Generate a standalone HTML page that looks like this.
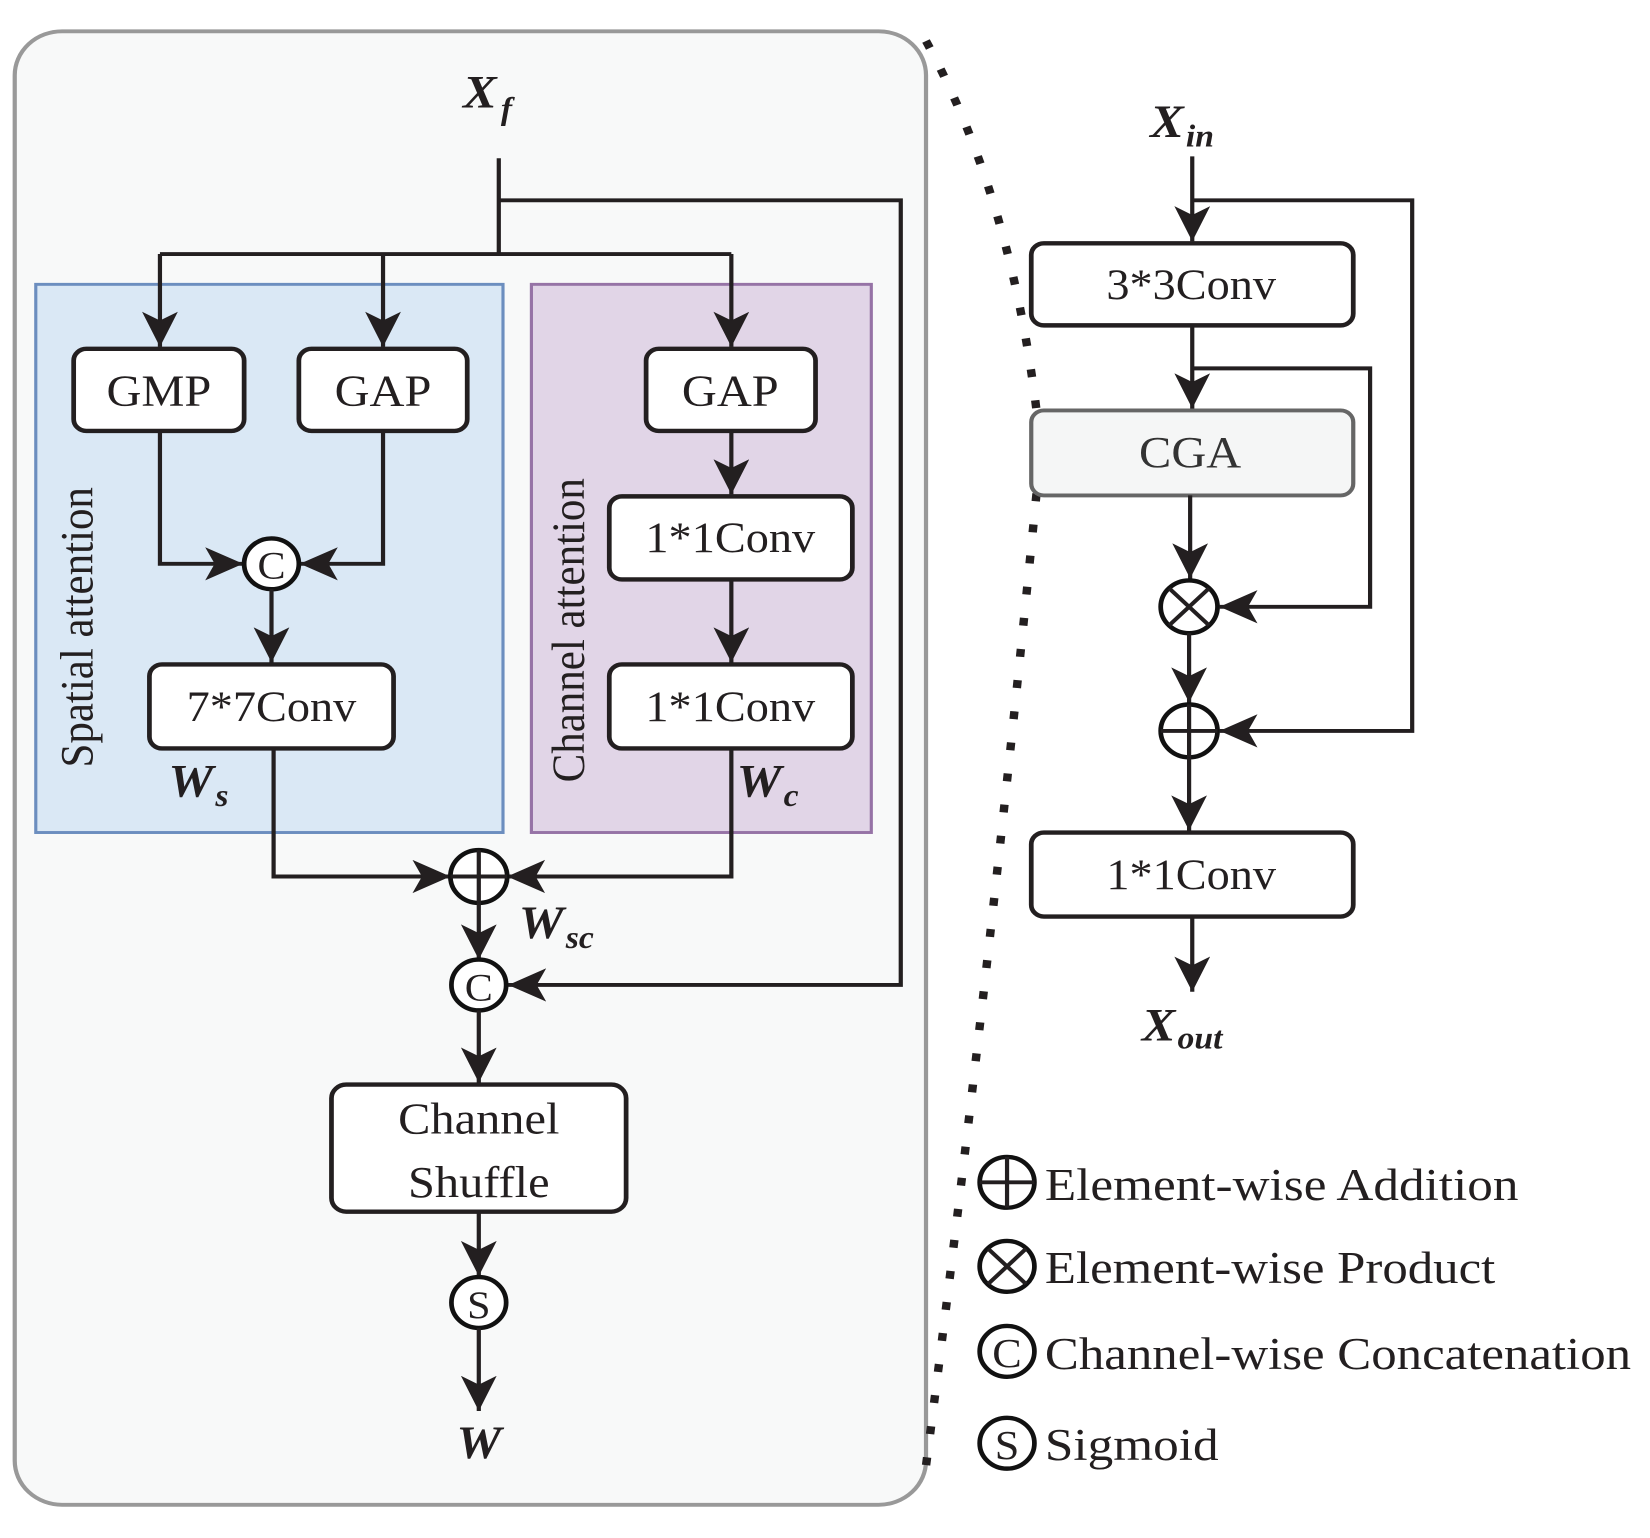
<!DOCTYPE html>
<html><head><meta charset="utf-8"><style>
html,body{margin:0;padding:0;background:#fff;}
svg{display:block;}
text{font-family:"Liberation Serif","Times New Roman",serif;fill:#231f20;}
.b{fill:#fff;stroke:#231f20;stroke-width:4.5;}
.l{fill:none;stroke:#231f20;stroke-width:4;}
.c{fill:#fff;stroke:#111;stroke-width:4.5;}
.bi{font-style:italic;font-weight:bold;}
</style></head><body>
<svg width="1650" height="1538" viewBox="0 0 1568 1574" preserveAspectRatio="none" xmlns="http://www.w3.org/2000/svg">
<defs>
<marker id="a" markerUnits="userSpaceOnUse" markerWidth="40" markerHeight="40" refX="36" refY="17" orient="auto">
<path d="M0,0 L36,17 L0,34 L9,17 z" fill="#231f20"/>
</marker>
</defs>
<rect x="14" y="32" width="866" height="1508" rx="45" fill="#f8f9f9" stroke="#999" stroke-width="4"/>
<rect x="34" y="291" width="444" height="561" fill="#dae8f5" stroke="#6c8ebf" stroke-width="3"/>
<rect x="505" y="291" width="323" height="561" fill="#e1d5e7" stroke="#9673a6" stroke-width="3"/>

<path d="M880,42 Q960,200 985,420 M985,505 Q940,1000 880,1500" fill="none" stroke="#231f20" stroke-width="8" stroke-dasharray="8,24"/>

<text x="440" y="110" font-size="48" class="bi">X<tspan font-size="32" dy="12" dx="4">f</tspan></text>
<path class="l" d="M474,162 V260"/>
<path class="l" d="M474,205 H856 V1008 H483" marker-end="url(#a)"/>
<path class="l" d="M152,260 H695"/>
<path class="l" d="M152,260 V355" marker-end="url(#a)"/>
<path class="l" d="M364,260 V355" marker-end="url(#a)"/>
<path class="l" d="M695,260 V355" marker-end="url(#a)"/>

<rect class="b" x="70" y="357" width="162" height="84" rx="12"/>
<text x="151" y="415" font-size="46" text-anchor="middle">GMP</text>
<rect class="b" x="284" y="357" width="160" height="84" rx="12"/>
<text x="364" y="415" font-size="46" text-anchor="middle">GAP</text>
<rect class="b" x="614" y="357" width="161" height="84" rx="12"/>
<text x="694" y="415" font-size="46" text-anchor="middle">GAP</text>

<path class="l" d="M152,441 V577 H231" marker-end="url(#a)"/>
<path class="l" d="M364,441 V577 H285" marker-end="url(#a)"/>
<circle class="c" cx="258" cy="577" r="26"/>
<text x="258" y="592" font-size="40" text-anchor="middle">C</text>
<path class="l" d="M258,603 V678" marker-end="url(#a)"/>
<rect class="b" x="142" y="680" width="232" height="86" rx="12"/>
<text x="258" y="738" font-size="44" text-anchor="middle">7*7Conv</text>
<text transform="translate(88,642) rotate(-90)" font-size="44" text-anchor="middle">Spatial attention</text>
<text x="160" y="815" font-size="48" class="bi">W<tspan font-size="32" dy="10" dx="2">s</tspan></text>

<path class="l" d="M695,441 V506" marker-end="url(#a)"/>
<rect class="b" x="579" y="508" width="231" height="85" rx="12"/>
<text x="694" y="565" font-size="44" text-anchor="middle">1*1Conv</text>
<path class="l" d="M695,593 V678" marker-end="url(#a)"/>
<rect class="b" x="579" y="680" width="231" height="86" rx="12"/>
<text x="694" y="738" font-size="44" text-anchor="middle">1*1Conv</text>
<text transform="translate(555,645) rotate(-90)" font-size="44" text-anchor="middle">Channel attention</text>
<text x="700" y="815" font-size="48" class="bi">W<tspan font-size="32" dy="10" dx="2">c</tspan></text>

<path class="l" d="M260,766 V897 H428" marker-end="url(#a)"/>
<path class="l" d="M695,766 V897 H482" marker-end="url(#a)"/>
<circle class="c" cx="455" cy="897" r="27"/>
<path class="l" d="M428,897 H482 M455,870 V924"/>
<text x="493" y="960" font-size="48" class="bi">W<tspan font-size="32" dy="10" dx="2">sc</tspan></text>
<path class="l" d="M455,924 V982" marker-end="url(#a)"/>
<circle class="c" cx="455" cy="1008" r="26"/>
<text x="455" y="1024" font-size="40" text-anchor="middle">C</text>
<path class="l" d="M455,1034 V1108" marker-end="url(#a)"/>
<rect class="b" x="315" y="1110" width="280" height="130" rx="14"/>
<text x="455" y="1160" font-size="46" text-anchor="middle">Channel</text>
<text x="455" y="1225" font-size="46" text-anchor="middle">Shuffle</text>
<path class="l" d="M455,1240 V1306" marker-end="url(#a)"/>
<circle class="c" cx="455" cy="1333" r="26"/>
<text x="455" y="1349" font-size="40" text-anchor="middle">S</text>
<path class="l" d="M455,1359 V1444" marker-end="url(#a)"/>
<text x="455" y="1492" font-size="48" class="bi" text-anchor="middle">W</text>

<text x="1093" y="140" font-size="48" class="bi">X<tspan font-size="32" dy="10" dx="2">in</tspan></text>
<path class="l" d="M1133,160 V247" marker-end="url(#a)"/>
<path class="l" d="M1133,205 H1342 V748 H1159" marker-end="url(#a)"/>
<rect class="b" x="980" y="249" width="306" height="84" rx="12"/>
<text x="1132" y="306" font-size="44" text-anchor="middle">3*3Conv</text>
<path class="l" d="M1133,333 V418" marker-end="url(#a)"/>
<path class="l" d="M1133,377 H1302 V621 H1159" marker-end="url(#a)"/>
<rect x="980" y="420" width="306" height="87" rx="12" fill="#f5f6f6" stroke="#666" stroke-width="4"/>
<text x="1131" y="478" font-size="46" text-anchor="middle" style="fill:#333">CGA</text>
<path class="l" d="M1131,507 V592" marker-end="url(#a)"/>
<circle class="c" cx="1130" cy="621" r="27"/>
<path class="l" d="M1111,602 L1149,640 M1149,602 L1111,640"/>
<path class="l" d="M1130,648 V719" marker-end="url(#a)"/>
<circle class="c" cx="1130" cy="748" r="27"/>
<path class="l" d="M1103,748 H1157 M1130,721 V775"/>
<path class="l" d="M1130,775 V850" marker-end="url(#a)"/>
<rect class="b" x="980" y="852" width="306" height="86" rx="12"/>
<text x="1132" y="910" font-size="44" text-anchor="middle">1*1Conv</text>
<path class="l" d="M1133,938 V1015" marker-end="url(#a)"/>
<text x="1085" y="1065" font-size="48" class="bi">X<tspan font-size="32" dy="8" dx="2">out</tspan></text>

<circle class="c" cx="957" cy="1210" r="26"/>
<path class="l" d="M931,1210 H983 M957,1184 V1236"/>
<text x="993" y="1228" font-size="47" textLength="450" lengthAdjust="spacingAndGlyphs">Element-wise Addition</text>
<circle class="c" cx="957" cy="1296" r="26"/>
<path class="l" d="M939,1278 L975,1314 M975,1278 L939,1314"/>
<text x="993" y="1313" font-size="47" textLength="428" lengthAdjust="spacingAndGlyphs">Element-wise Product</text>
<circle class="c" cx="957" cy="1383" r="26"/>
<text x="957" y="1399" font-size="42" text-anchor="middle">C</text>
<text x="993" y="1401" font-size="47" textLength="557" lengthAdjust="spacingAndGlyphs">Channel-wise Concatenation</text>
<circle class="c" cx="957" cy="1477" r="26"/>
<text x="957" y="1493" font-size="42" text-anchor="middle">S</text>
<text x="993" y="1494" font-size="47" textLength="165" lengthAdjust="spacingAndGlyphs">Sigmoid</text>
</svg>
</body></html>
